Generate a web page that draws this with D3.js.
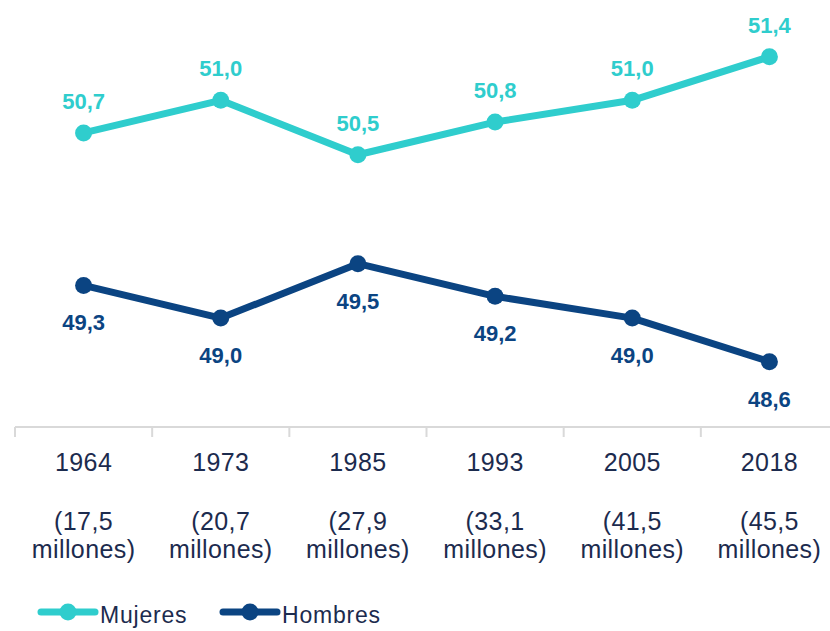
<!DOCTYPE html>
<html>
<head>
<meta charset="utf-8">
<script src="https://cdn.jsdelivr.net/npm/d3@7"></script>
<style>
  body { margin: 0; background: #fff; }
  text { font-family: "Liberation Sans", Arial, sans-serif; }
</style>
</head>
<body>
<div id="container"></div>
<script>
// Chart data
const years = ["1964", "1973", "1985", "1993", "2005", "2018"];
const population = ["(17,5", "(20,7", "(27,9", "(33,1", "(41,5", "(45,5"];
const mujeres = [50.7, 51.0, 50.5, 50.8, 51.0, 51.4];
const hombres = [49.3, 49.0, 49.5, 49.2, 49.0, 48.6];

const width = 830, height = 631;
const teal = "#2fcdcd", navy = "#0b4482", textColor = "#1c2b4e";

const svg = d3.create("svg").attr("width", width).attr("height", height);

// Scales
const x = d3.scaleBand().domain(years).range([15, 838]);
const y = d3.scaleLinear().domain([48, 52]).range([427, 427 - 4 * 108.9]);
const cx = d => x(d) + x.bandwidth() / 2;

// Category axis
const axis = svg.append("g").attr("transform", "translate(0,427)")
  .call(d3.axisBottom(x).tickSize(0).tickFormat(""));
axis.select(".domain").attr("stroke", "#d9d9d9").attr("stroke-width", 2).attr("d", "M15,0H830");
axis.selectAll(".tk").data(years).enter().append("line")
  .attr("x1", d => x(d)).attr("x2", d => x(d))
  .attr("y1", 0).attr("y2", 10)
  .attr("stroke", "#d9d9d9").attr("stroke-width", 2);

const labels = svg.append("g").attr("fill", textColor).attr("font-size", 25)
  .attr("letter-spacing", 0.4).attr("text-anchor", "middle");
labels.selectAll(".yr").data(years).enter().append("text")
  .attr("x", cx).attr("y", 471).text(d => d);
labels.selectAll(".pop").data(years).enter().append("text")
  .attr("x", cx).attr("y", 530).text((d, i) => population[i]);
labels.selectAll(".mil").data(years).enter().append("text")
  .attr("x", cx).attr("y", 558).text("millones)");

// Series
const line = d3.line().x((d, i) => cx(years[i])).y(d => y(d));

function drawSeries(values, color, dy) {
  const g = svg.append("g");
  g.append("path").datum(values)
    .attr("d", line).attr("fill", "none")
    .attr("stroke", color).attr("stroke-width", 7).attr("stroke-linejoin", "round");
  g.selectAll("circle").data(values).enter().append("circle")
    .attr("cx", (d, i) => cx(years[i])).attr("cy", d => y(d)).attr("r", 8.5)
    .attr("fill", color);
  g.selectAll("text").data(values).enter().append("text")
    .attr("x", (d, i) => cx(years[i])).attr("y", d => y(d) + dy)
    .attr("text-anchor", "middle").attr("font-size", 22).attr("font-weight", "bold")
    .attr("fill", color)
    .text(d => d3.format(".1f")(d).replace(".", ","));
}
drawSeries(mujeres, teal, -24);
drawSeries(hombres, navy, 45);

// Legend
const legend = [["Mujeres", teal, 38], ["Hombres", navy, 220]];
legend.forEach(([name, color, lx]) => {
  svg.append("line").attr("x1", lx + 3).attr("x2", lx + 57).attr("y1", 612).attr("y2", 612)
    .attr("stroke", color).attr("stroke-width", 7).attr("stroke-linecap", "round");
  svg.append("circle").attr("cx", lx + 30).attr("cy", 612).attr("r", 8.5).attr("fill", color);
  svg.append("text").attr("x", lx + 62).attr("y", 623).attr("font-size", 23)
    .attr("letter-spacing", 0.8).attr("fill", textColor).text(name);
});

document.getElementById("container").append(svg.node());
</script>
</body>
</html>
